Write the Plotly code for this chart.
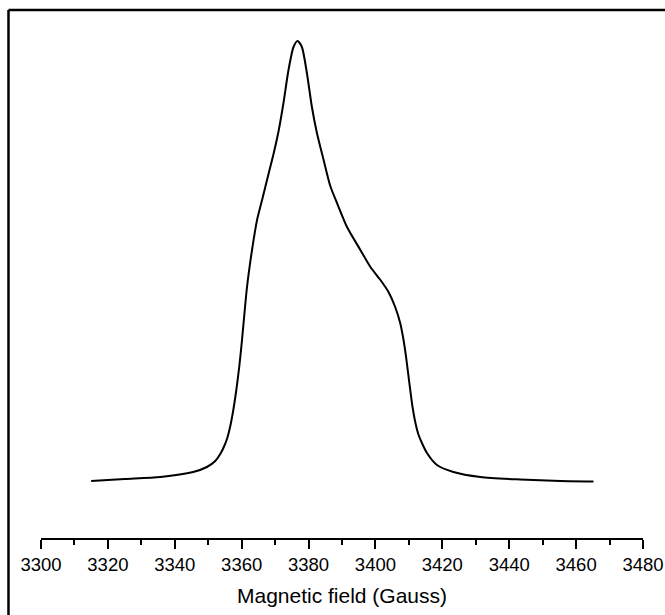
import plotly.graph_objects as go

# Magnetic field (Gauss) and EPR absorption intensity (arbitrary units)
field_gauss = [3315.0, 3325.0, 3335.7, 3345.5, 3349.6, 3352.1, 3353.6, 3354.8, 3355.7,
               3356.6, 3357.5, 3358.4, 3359.3, 3360.1, 3361.6, 3363.1, 3364.6, 3366.1,
               3368.1, 3369.6, 3371.1, 3372.5, 3374.0, 3375.5, 3376.7, 3378.0, 3379.5,
               3381.0, 3382.5, 3384.5, 3386.5, 3388.5, 3391.5, 3395.5, 3398.5, 3401.5,
               3403.9, 3405.9, 3407.4, 3408.4, 3409.2, 3410.1, 3411.0, 3411.9, 3412.8,
               3413.9, 3415.4, 3418.4, 3423.3, 3431.4, 3443.3, 3455.3, 3465.2]
intensity = [1, 3, 5, 10, 15, 21, 28, 36, 44,
             56, 72, 92, 116, 142, 195, 232, 262, 282,
             309, 329, 352, 379, 412, 435, 441, 435, 409,
             375, 349, 322, 296, 279, 255, 232, 215, 202,
             190, 175, 159, 142, 124, 100, 77, 60, 48,
             39, 29, 17, 10, 5, 2.5, 1, 0.5]

x_range = [3300, 3480]
tick_values = [3300, 3320, 3340, 3360, 3380, 3400, 3420, 3440, 3460, 3480]
x_title = "Magnetic field (Gauss)"

fig = go.Figure()
fig.add_trace(go.Scatter(
    x=field_gauss, y=intensity, mode="lines",
    line=dict(color="black", width=2, shape="spline", smoothing=0.7),
    hoverinfo="skip", showlegend=False,
))

font_family = "Liberation Sans, Arial, sans-serif"

fig.update_layout(
    width=665, height=615,
    margin=dict(l=41, r=22, t=10, b=77),
    paper_bgcolor="white", plot_bgcolor="white",
    font=dict(family=font_family, color="black"),
    xaxis=dict(
        range=x_range, tickvals=tick_values, showgrid=False, zeroline=False,
        automargin=False,
        showline=True, linecolor="black", linewidth=1.5,
        ticks="outside", ticklen=9, tickwidth=1.5, tickcolor="black",
        tickfont=dict(size=18.5, family=font_family, color="black"),
        minor=dict(dtick=10, tick0=3300, ticks="outside", ticklen=5,
                   tickwidth=1.5, tickcolor="black", showgrid=False),
        title=dict(text=x_title, font=dict(size=21, family=font_family, color="black"),
                   standoff=14),
    ),
    yaxis=dict(range=[-56, 472], visible=False, showgrid=False, zeroline=False,
               automargin=False),
    shapes=[
        dict(type="line", xref="paper", yref="paper", x0=-0.054, x1=1.04, y0=1.0, y1=1.0,
             line=dict(color="black", width=2.5)),
        dict(type="line", xref="paper", yref="paper", x0=-0.054, x1=-0.054, y0=1.0, y1=-0.16,
             line=dict(color="black", width=2.5)),
    ],
)

fig.write_html("out.html")
